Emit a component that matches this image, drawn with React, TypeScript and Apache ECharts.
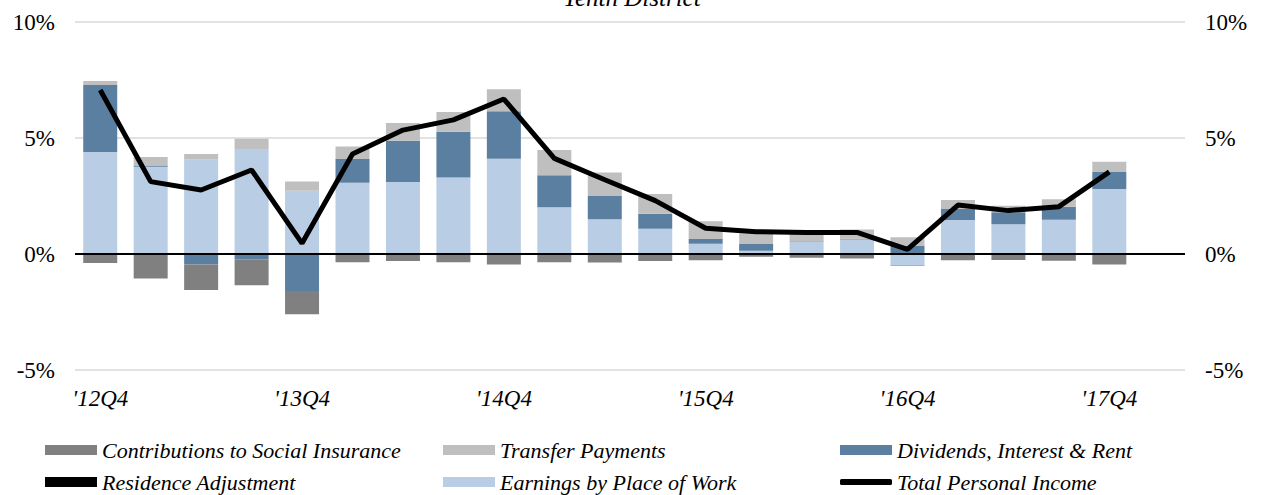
import React, { useEffect, useRef } from "react";
import * as echarts from "echarts";

const categories = ["'12Q4", "'13Q1", "'13Q2", "'13Q3", "'13Q4", "'14Q1", "'14Q2", "'14Q3", "'14Q4", "'15Q1", "'15Q2", "'15Q3", "'15Q4", "'16Q1", "'16Q2", "'16Q3", "'16Q4", "'17Q1", "'17Q2", "'17Q3", "'17Q4", ""];
const earnings = [4.40, 3.76, 4.08, 4.53, 2.73, 3.07, 3.10, 3.30, 4.11, 2.01, 1.50, 1.09, 0.44, 0.14, 0.53, 0.63, -0.50, 1.47, 1.28, 1.48, 2.80];
const dividends = [2.88, 0.05, -0.45, -0.23, -1.60, 1.02, 1.78, 1.97, 2.04, 1.38, 1.00, 0.65, 0.21, 0.29, 0.02, 0.03, 0.34, 0.47, 0.52, 0.56, 0.73];
const transfer = [0.18, 0.37, 0.23, 0.44, 0.39, 0.54, 0.77, 0.85, 0.95, 1.09, 1.01, 0.85, 0.76, 0.46, 0.32, 0.40, 0.38, 0.39, 0.28, 0.32, 0.45];
const contributions = [-0.39, -1.06, -1.10, -1.12, -1.00, -0.36, -0.30, -0.36, -0.45, -0.36, -0.37, -0.30, -0.27, -0.12, -0.16, -0.19, -0.02, -0.27, -0.26, -0.29, -0.45];
const residence = [0, 0, 0, 0, 0, 0, 0, 0, 0, 0, 0, 0, 0, 0, 0, 0, 0, 0, 0, 0, 0];
const total = [7.07, 3.12, 2.76, 3.62, 0.46, 4.31, 5.34, 5.78, 6.68, 4.12, 3.20, 2.30, 1.11, 0.96, 0.93, 0.93, 0.20, 2.11, 1.87, 2.04, 3.54];

const FONT = "Liberation Serif";

export default function App() {
  const ref = useRef<HTMLDivElement>(null);
  useEffect(() => {
    document.body.style.margin = "0";
    const chart = echarts.init(ref.current!, null, { renderer: "svg" });
    const barBase = { type: "bar", stack: "s", barWidth: 34, xAxisIndex: 0, yAxisIndex: 0 };
    const legendText = { fontFamily: FONT, fontStyle: "italic", fontSize: 22, color: "#000" };
    const mkLegend = (name: string, left: number, top: number, icon: string, h: number) => ({
      data: [{ name, icon }],
      left,
      top,
      padding: 0,
      itemWidth: 52,
      itemHeight: h,
      itemGap: 6,
      textStyle: legendText,
      selectedMode: false,
    });
    chart.setOption({
      animation: false,
      textStyle: { fontFamily: FONT },
      graphic: [
        {
          type: "text",
          left: "center",
          top: -15,
          style: { text: "Tenth District", fontFamily: FONT, fontStyle: "italic", fontSize: 25, fill: "#000" },
        },
      ],
      legend: [
        mkLegend("Contributions to Social Insurance", 45, 439, "rect", 10),
        mkLegend("Transfer Payments", 443, 439, "rect", 10),
        mkLegend("Dividends, Interest & Rent", 840, 439, "rect", 10),
        mkLegend("Residence Adjustment", 45, 471, "rect", 10),
        mkLegend("Earnings by Place of Work", 443, 471, "rect", 10),
        mkLegend("Total Personal Income", 840, 471, "roundRect", 6),
      ],
      grid: { left: 75, right: 79, top: 22, bottom: 125 },
      xAxis: {
        type: "category",
        data: categories,
        axisLine: { show: false },
        axisTick: { show: false },
        axisLabel: {
          interval: 3,
          fontFamily: FONT,
          fontStyle: "italic",
          fontSize: 23,
          color: "#000",
          margin: 17,
        },
      },
      yAxis: [
        {
          type: "value",
          min: -5,
          max: 10,
          interval: 5,
          axisLabel: { formatter: "{value}%", fontFamily: FONT, fontSize: 23, color: "#000", margin: 20 },
          splitLine: { lineStyle: { color: "#d9d9d9", width: 1.5 } },
          axisLine: { show: false },
          axisTick: { show: false },
        },
        {
          type: "value",
          min: -5,
          max: 10,
          interval: 5,
          position: "right",
          axisLabel: { formatter: "{value}%", fontFamily: FONT, fontSize: 23, color: "#000", margin: 20 },
          splitLine: { show: false },
          axisLine: { show: false },
          axisTick: { show: false },
        },
      ],
      series: [
        {
          ...barBase,
          name: "Earnings by Place of Work",
          data: earnings,
          itemStyle: { color: "#b9cde4" },
          markLine: {
            silent: true,
            symbol: "none",
            label: { show: false },
            lineStyle: { color: "#000", width: 2, type: "solid" },
            data: [{ yAxis: 0 }],
          },
        },
        { ...barBase, name: "Dividends, Interest & Rent", data: dividends, itemStyle: { color: "#5a7fa1" } },
        { ...barBase, name: "Transfer Payments", data: transfer, itemStyle: { color: "#bfbfbf" } },
        { ...barBase, name: "Residence Adjustment", data: residence, itemStyle: { color: "#000" } },
        { ...barBase, name: "Contributions to Social Insurance", data: contributions, itemStyle: { color: "#808080" } },
        {
          type: "line",
          name: "Total Personal Income",
          data: total.map((v, i) =>
            i === total.length - 1
              ? {
                  value: v,
                  label: {
                    show: true,
                    position: "right",
                    distance: 26,
                    offset: [0, -12],
                    formatter: (p: any) => `${Number(p.value).toFixed(1)}%`,
                    fontFamily: FONT,
                    fontWeight: "bold",
                    fontSize: 23,
                    color: "#000",
                  },
                }
              : v
          ),
          symbol: "none",
          showSymbol: false,
          lineStyle: { color: "#000", width: 5 },
          itemStyle: { color: "#000" },
          z: 5,
        },
      ],
    });
    return () => chart.dispose();
  }, []);
  return <div ref={ref} style={{ width: 1264, height: 495 }} />;
}
